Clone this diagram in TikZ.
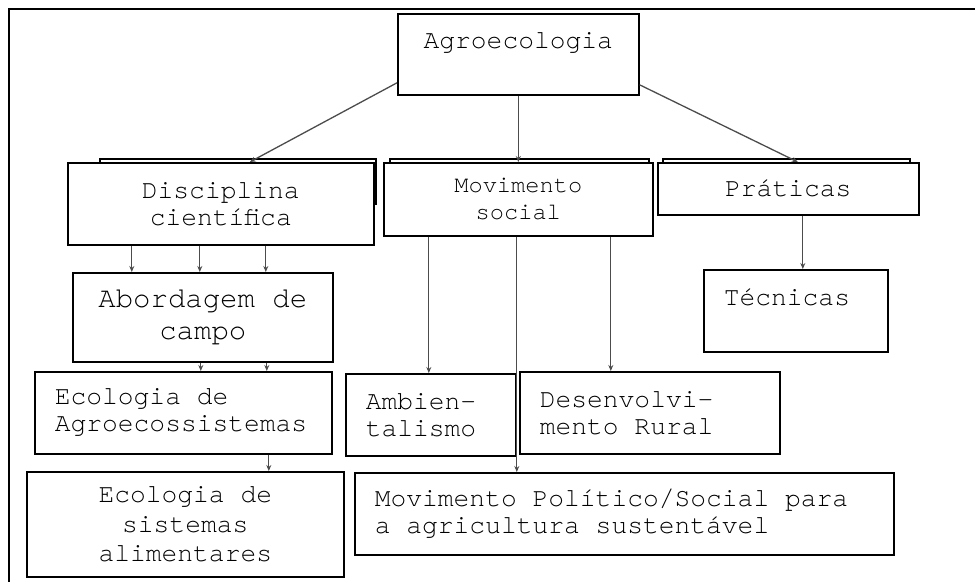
\documentclass[tikz,border=0pt]{standalone}
\usepackage{fontspec}
\newfontfamily\courfont{TeX Gyre Cursor}
\newcommand\boxfont[2]{\courfont\fontsize{#1}{#2}\selectfont}
\newcommand\monospace{\spaceskip=\fontcharwd\font`\x\relax\xspaceskip=\spaceskip}
\usetikzlibrary{arrows.meta}

\begin{document}
\begin{tikzpicture}[%
      x=1pt, y=-1pt,
      box/.style={draw=black, fill=white, line width=1.6pt, anchor=north west,
        inner xsep=20pt, inner ysep=0pt,
        font=\boxfont{26.3}{27}, execute at begin node=\monospace},
      ghost/.style={draw=black, line width=1.6pt},
      arr/.style={draw=gray!60!black, line width=1.3pt,
        -{Stealth[length=6pt,width=5pt]}},
      ]
      \useasboundingbox (0,0) rectangle (975,582);
      \draw [line width=1.5pt] (975,9) -- (9,9) -- (9,582);

      \draw [ghost] (100,159) rectangle (376,204);
      \draw [ghost] (390,159) rectangle (649,200);
      \draw [ghost] (663,159) rectangle (910,200);

      \node [box, text width=201pt, minimum height=81pt, align=center] (agro) at (397,13) {Agroecologia\\ \mbox{}};
      \node [box, text width=266pt, minimum height=82pt, align=center] (disc) at (67,162) {Disciplina\\científica};
      \node [box, text width=229pt, minimum height=73pt, align=center,
        font=\boxfont{23.7}{27}] (mov) at (383,162) {Movimento\\social};
      \node [box, text width=221pt, minimum height=52pt, align=center] (prat) at (657,162) {Práticas};
      \node [box, text width=144pt, minimum height=82pt, align=left] (tec) at (703,269) {Técnicas\\ \mbox{}};
      \node [box, text width=220pt, minimum height=89pt, align=center,
        font=\boxfont{29}{32}] (abord) at (72,272) {Abordagem de\\campo};
      \node [box, text width=257pt, minimum height=82pt, align=left] (ecoagro) at (34,371) {Ecologia de\\Agroecossistemas};
      \node [box, text width=130pt, minimum height=82pt, align=left] (amb) at (345,373) {Ambien-\\talismo};
      \node [box, text width=220pt, minimum height=82pt, align=left] (desenv) at (519,371) {Desenvolvi-\\mento Rural};
      \node [box, text width=277pt, minimum height=105pt, align=center,
        font=\boxfont{26.3}{29.5}] (ecosis) at (26,471) {Ecologia de\\sistemas\\alimentares};
      \node [box, text width=499pt, minimum height=82pt, align=left] (movpol) at (354,472) {Movimento Político/Social para\\a agricultura sustentável};

      \draw [arr] ([yshift=-28.5pt]agro.west) -- ([xshift=29pt]disc.north);
      \draw [arr] (agro) -- (mov);
      \draw [arr] ([yshift=-30.5pt]agro.east) -- ([xshift=9.5pt]prat.north);

      \foreach \dx in {-89,-21,45}
        \draw [arr] ([xshift=\dx pt]disc.south) -- ([xshift=\dx pt]disc.south |- abord.north);
      \foreach \dx in {-2,64}
        \draw [arr] ([xshift=\dx pt]abord.south) -- ([xshift=\dx pt]abord.south |- ecoagro.north);
      \draw [arr] ([xshift=85.5pt]ecoagro.south) -- ([xshift=85.5pt]ecoagro.south |- ecosis.north);

      \draw [arr] ([xshift=-89.5pt]mov.south) -- ([xshift=-89.5pt]mov.south |- amb.north);
      \draw [arr] ([xshift=-1.5pt]mov.south) -- ([xshift=-1.5pt]mov.south |- movpol.north);
      \draw [arr] ([xshift=92.5pt]mov.south) -- ([xshift=92.5pt]mov.south |- desenv.north);
      \draw [arr] ([xshift=14.5pt]prat.south) -- ([xshift=14.5pt]prat.south |- tec.north);
      \end{tikzpicture}
\end{document}
